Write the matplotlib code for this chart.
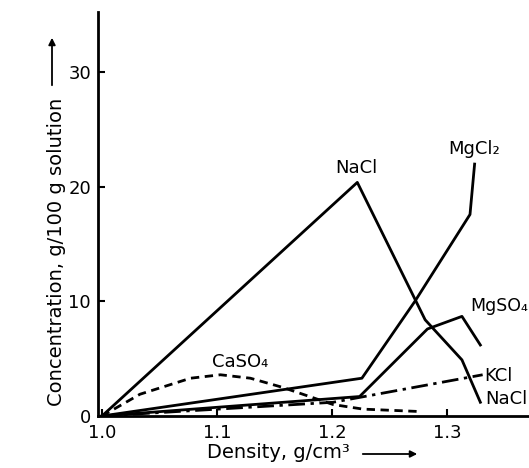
import matplotlib
matplotlib.use("Agg")
import matplotlib.pyplot as plt

# ---- data ----
nacl_x = [1.0, 1.222, 1.281, 1.313, 1.329]
nacl_y = [0.0, 20.4, 8.4, 4.9, 1.2]

mgcl2_x = [1.0, 1.226, 1.272, 1.320, 1.324]
mgcl2_y = [0.0, 3.3, 10.0, 17.6, 22.0]

mgso4_x = [1.0, 1.224, 1.283, 1.313, 1.329]
mgso4_y = [0.0, 1.7, 7.6, 8.7, 6.2]

kcl_x = [1.0, 1.201, 1.331]
kcl_y = [0.0, 1.2, 3.6]

caso4_x = [1.0, 1.033, 1.077, 1.103, 1.129, 1.157, 1.201, 1.227, 1.274]
caso4_y = [0.0, 1.9, 3.3, 3.6, 3.3, 2.5, 1.0, 0.6, 0.4]

x_ticks = [1.0, 1.1, 1.2, 1.3]
x_ticklabels = ["1.0", "1.1", "1.2", "1.3"]
y_ticks = [0, 10, 20, 30]
y_ticklabels = ["0", "10", "20", "30"]

plt.rcParams['font.family'] = ['DejaVu Sans']
FS = 13
FSL = 14

fig = plt.figure(figsize=(5.29, 4.68), dpi=100)
ax = fig.add_axes([98/529, 52/468, (529-98)/529, (416-12)/468])

lw = 2.0
ax.plot(nacl_x, nacl_y, color='black', lw=lw)
ax.plot(mgcl2_x, mgcl2_y, color='black', lw=lw)
ax.plot(mgso4_x, mgso4_y, color='black', lw=lw)
ax.plot(kcl_x, kcl_y, color='black', lw=lw, dashes=(6, 2, 1.2, 2))
ax.plot(caso4_x, caso4_y, color='black', lw=lw, dashes=(3, 2))

ax.set_xlim(0.99652, 1.3713)
ax.set_ylim(0, 35.28)

for s in ['top', 'right']:
    ax.spines[s].set_visible(False)
for s in ['left', 'bottom']:
    ax.spines[s].set_linewidth(2.0)

ax.set_xticks(x_ticks)
ax.set_xticklabels(x_ticklabels)
ax.set_yticks(y_ticks)
ax.set_yticklabels(y_ticklabels)
ax.tick_params(direction='in', length=5, width=1.5, labelsize=FS)
ax.tick_params(axis='y', pad=5)
ax.tick_params(axis='x', pad=6)

# curve labels
ax.text(1.221, 21.7, "NaCl", fontsize=FS, ha='center', va='center')
ax.text(1.324, 23.3, "MgCl₂", fontsize=FS, ha='center', va='center')
ax.text(1.320, 9.6, "MgSO₄", fontsize=12.5, ha='left', va='center')
ax.text(1.332, 3.5, "KCl", fontsize=FS, ha='left', va='center')
ax.text(1.333, 1.5, "NaCl", fontsize=FS, ha='left', va='center')
ax.text(1.096, 4.7, "CaSO₄", fontsize=FS, ha='left', va='center')

# axis labels with arrows
fig.text(56/529, 1 - 252/468, "Concentration, g/100 g solution", rotation=90,
         fontsize=FSL, ha='center', va='center')
fig.add_artist(matplotlib.patches.FancyArrowPatch(
    (52/529, 1 - 88/468), (52/529, 1 - 35/468), transform=fig.transFigure,
    arrowstyle='-|>', mutation_scale=10, lw=1.3, color='black'))

fig.text(278/529, 1 - 452/468, "Density, g/cm³", fontsize=FSL,
         ha='center', va='center')
fig.add_artist(matplotlib.patches.FancyArrowPatch(
    (360/529, 1 - 454/468), (420/529, 1 - 454/468), transform=fig.transFigure,
    arrowstyle='-|>', mutation_scale=10, lw=1.3, color='black'))

fig.savefig("out.png", dpi=100)
